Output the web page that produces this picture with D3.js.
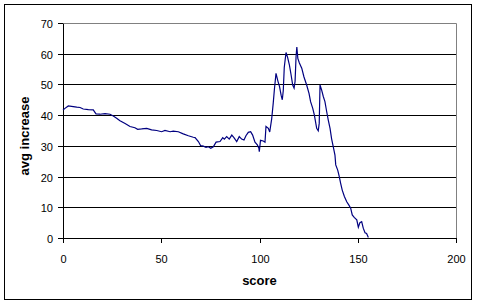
<!DOCTYPE html>
<html>
<head>
<meta charset="utf-8">
<script src="https://cdn.jsdelivr.net/npm/d3@7"></script>
<style>
  html, body { margin: 0; padding: 0; background: #fff; }
  svg { display: block; font-family: "Liberation Sans", Arial, sans-serif; }
</style>
</head>
<body>
<div id="chart"></div>
<script>
// valeurs
const scores = [0, 1, 2.7, 5.2, 7, 8.7, 10.3, 12.9, 15.4, 16.8, 18.8, 21.4, 23.9, 25.6, 27.3, 29,
  31.6, 34.1, 36.6, 38, 40, 42.6, 45.1, 47.7, 50.2, 51.9, 54.5, 56.1, 58.7, 61.2, 63.8, 66.3,
  67.2, 68.9, 70, 71.4, 72.8, 74, 75.2, 76.5, 77.9, 79.9, 81.3, 82.1, 83.3, 84.6, 85.9, 87,
  88.4, 89.7, 90.9, 92.1, 93.1, 94.3, 95.5, 96.5, 97.7, 98.9, 99.7, 99.9, 100.5, 101.9, 102.8,
  103.3, 104.5, 105.2, 106.2, 107, 107.6, 108.4, 109.4, 110.2, 111, 111.6, 112.1, 112.6, 113.5,
  114.3, 115.2, 116, 116.9, 117.6, 118.1, 118.6, 119, 119.5, 120.3, 121.5, 122.6, 124, 125.2,
  126, 127.1, 127.9, 129.1, 129.9, 130.4, 130.8, 131.6, 132.5, 133.3, 134.2, 135, 135.9, 136.7,
  137.6, 138.4, 138.8, 139.8, 140.6, 141.3, 142.1, 143.2, 144.4, 145.5, 146.4, 147.2, 148.2,
  149.5, 150.3, 151.1, 152, 152.8, 153.7, 154.5, 155.4];
const avgIncrease = [41.7, 42.2, 43, 42.8, 42.6, 42.5, 42, 41.8, 41.7, 40.4, 40.3, 40.5, 40.3, 39.7, 39, 38.2,
  37.3, 36.3, 35.9, 35.4, 35.5, 35.7, 35.2, 35, 34.6, 35, 34.6, 34.8, 34.6, 33.9, 33.3, 32.8,
  32.7, 31.4, 30.1, 29.9, 29.5, 29.7, 29.2, 29.7, 31.2, 31.4, 32.7, 32.2, 33, 32.2, 33.5, 32.7,
  31.4, 33, 32.2, 31.9, 33.3, 34.4, 34.6, 33.5, 31.2, 30.3, 29.2, 28.1, 31.8, 31.6, 31.2,
  36.3, 35.7, 34.5, 38.8, 44, 48.5, 53.6, 51, 49.3, 46.5, 45, 48, 55.5, 60.4,
  58.8, 56.4, 53.4, 49.8, 48.8, 51, 59, 62.2, 58.5, 57, 55.3, 52.5, 49.8, 47.1,
  44.4, 42.2, 40.1, 35.7, 34.9, 37.4, 49.8, 48.2, 46, 44.4, 41.1, 38.4, 35.7, 32.3,
  29.5, 27, 23.8, 22.1, 20, 17.8, 15.6, 13.5, 11.8, 10.7, 9.7, 7.5, 6.7,
  5.9, 3.5, 5, 5.3, 3.2, 1.7, 1.5, 0.2];
const xTicks = [0, 50, 100, 150, 200];
const yTicks = [0, 10, 20, 30, 40, 50, 60, 70];

const W = 480, H = 305;
const plotLeft = 63, plotRight = 456, plotTop = 23, plotBottom = 238;

const svg = d3.select("#chart").append("svg")
  .attr("width", W).attr("height", H);

// cadre extérieur
svg.append("rect")
  .attr("x", 4.5).attr("y", 4.5)
  .attr("width", 467).attr("height", 295)
  .attr("fill", "#fff").attr("stroke", "#000").attr("stroke-width", 1);

const x = d3.scaleLinear().domain([0, 200]).range([plotLeft, plotRight]);
const y = d3.scaleLinear().domain([0, 70]).range([plotBottom, plotTop]);
// position nette au pixel
const crisp = v => Math.round(v) + 0.5;

// lignes de grille
svg.append("g")
  .selectAll("line")
  .data(yTicks.filter(d => d > 0 && d < 70))
  .enter().append("line")
  .attr("x1", crisp(plotLeft)).attr("x2", crisp(plotRight))
  .attr("y1", d => crisp(y(d))).attr("y2", d => crisp(y(d)))
  .attr("stroke", "#000");

// bord gris de la zone de tracé
svg.append("path")
  .attr("d", `M${crisp(plotLeft)},${crisp(plotTop)}H${crisp(plotRight)}V${crisp(plotBottom)}`)
  .attr("fill", "none").attr("stroke", "#808080");

// axe Y
svg.append("g")
  .attr("transform", `translate(${plotLeft},0)`)
  .call(d3.axisLeft(y).tickValues(yTicks).tickSize(5).tickSizeOuter(0).tickPadding(5))
  .call(g => g.selectAll(".tick").attr("transform", d => `translate(0,${crisp(y(d))})`))
  .call(g => g.selectAll("text")
    .style("font-size", "11px").style("fill", "#000").attr("dy", "0.42em"));

// axe X
svg.append("g")
  .attr("transform", `translate(0,${plotBottom})`)
  .call(d3.axisBottom(x).tickValues(xTicks).tickSize(5).tickSizeOuter(0).tickPadding(12))
  .call(g => g.selectAll(".tick").attr("transform", d => `translate(${crisp(x(d))},0)`))
  .call(g => g.selectAll("text")
    .style("font-size", "11px").style("fill", "#000"));

svg.selectAll(".domain, .tick line").attr("stroke", "#000");

// courbe
const pts = scores.map((s, i) => [s, avgIncrease[i]]);
svg.append("path")
  .datum(pts)
  .attr("fill", "none")
  .attr("stroke", "#000080")
  .attr("stroke-width", 1.2)
  .attr("d", d3.line().x(d => x(d[0])).y(d => y(d[1])));

// titres des axes
svg.append("text")
  .attr("x", (plotLeft + plotRight) / 2).attr("y", 284.5)
  .attr("text-anchor", "middle")
  .style("font-size", "13px").style("font-weight", "bold")
  .text("score");

svg.append("text")
  .attr("transform", "translate(29,136) rotate(-90)")
  .attr("text-anchor", "middle")
  .style("font-size", "13px").style("font-weight", "bold")
  .text("avg increase");
</script>
</body>
</html>
